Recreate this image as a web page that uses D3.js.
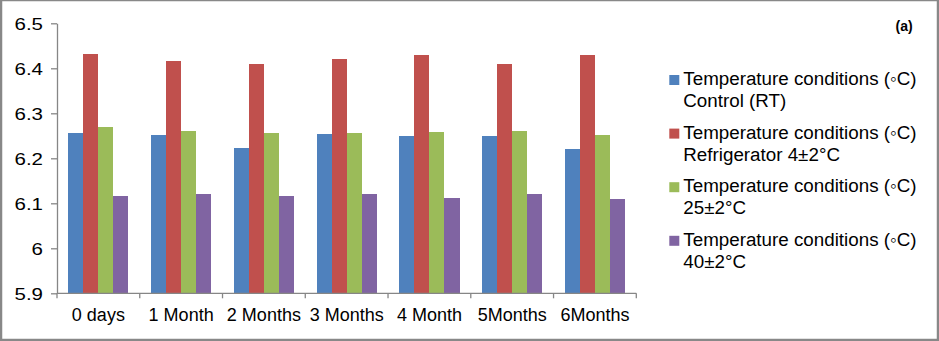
<!DOCTYPE html>
<html>
<head>
<meta charset="utf-8">
<script src="https://cdn.jsdelivr.net/npm/d3@7/dist/d3.min.js"></script>
<style>
  html, body { margin: 0; padding: 0; background: #fff; }
  svg { display: block; }
  text { font-family: "Liberation Sans", Arial, "DejaVu Sans", sans-serif; fill: #000; }
</style>
</head>
<body>
<svg id="chart" width="939" height="341"></svg>
<script>
// Storage periods along the x axis
const categories = ["0 days", "1 Month", "2 Months", "3 Months", "4 Month", "5Months", "6Months"];

// Series names (two legend lines each)
const seriesNames = [
  ["Temperature conditions (\u25E6C)", "Control (RT)"],
  ["Temperature conditions (\u25E6C)", "Refrigerator 4\u00B12\u00B0C"],
  ["Temperature conditions (\u25E6C)", "25\u00B12\u00B0C"],
  ["Temperature conditions (\u25E6C)", "40\u00B12\u00B0C"]
];
const seriesColors = ["#4F81BD", "#C0504D", "#9BBB59", "#8064A2"];

// pH values per series, one per storage period
const controlRT    = [6.256, 6.252, 6.223, 6.254, 6.250, 6.250, 6.221];
const refrigerator = [6.432, 6.416, 6.410, 6.421, 6.430, 6.410, 6.430];
const temp25       = [6.270, 6.261, 6.256, 6.256, 6.259, 6.261, 6.252];
const temp40       = [6.117, 6.121, 6.117, 6.121, 6.112, 6.121, 6.110];
const seriesValues = [controlRT, refrigerator, temp25, temp40];

// Y axis ticks
const yTicks = [5.9, 6.0, 6.1, 6.2, 6.3, 6.4, 6.5];
const yLabels = ["5.9", "6", "6.1", "6.2", "6.3", "6.4", "6.5"];
const panelLabel = "(a)";

const svg = d3.select("#chart");
const W = 939, H = 341;
const plot = { left: 57, right: 636.3, top: 23.3, bottom: 293.3 };
const axisColor = "#868686";

// Outer frame
svg.append("rect")
  .attr("x", 1).attr("y", 0).attr("width", W - 2).attr("height", H - 1)
  .attr("fill", "#fff").attr("stroke", "#888").attr("stroke-width", 2.5);

const x0 = d3.scaleBand().domain(categories).range([plot.left, plot.right]).paddingInner(0).paddingOuter(0);
const x1 = d3.scaleBand().domain(d3.range(seriesValues.length)).range([0, x0.bandwidth()])
  .paddingInner(0).paddingOuter(0.75);
const y = d3.scaleLinear().domain([yTicks[0], yTicks[yTicks.length - 1]]).range([plot.bottom, plot.top]);

// Bars
const groups = svg.append("g").selectAll("g").data(categories).join("g")
  .attr("transform", d => `translate(${x0(d)},0)`);
groups.selectAll("rect")
  .data((c, i) => seriesValues.map((vals, s) => ({ s, v: vals[i] })))
  .join("rect")
  .attr("x", d => x1(d.s))
  .attr("width", x1.bandwidth())
  .attr("y", d => y(d.v))
  .attr("height", d => y(yTicks[0]) - y(d.v))
  .attr("fill", d => seriesColors[d.s])
  .attr("shape-rendering", "crispEdges");

// Y axis
const yAxis = svg.append("g")
  .attr("transform", `translate(${plot.left},0)`)
  .call(d3.axisLeft(y).tickValues(yTicks).tickSize(6).tickSizeOuter(0)
    .tickFormat((d, i) => yLabels[i]));
yAxis.select(".domain").attr("stroke", axisColor).attr("stroke-width", 1.3);
yAxis.selectAll(".tick line").attr("stroke", axisColor).attr("stroke-width", 1.3);
yAxis.selectAll(".tick text")
  .attr("x", 0).attr("dy", null).attr("y", 5.7)
  .attr("text-anchor", "end")
  .attr("transform", "translate(-14,0) scale(1.28,1)")
  .style("font-size", "16px")
  .style("font-family", "\"Liberation Sans\", Arial, sans-serif");

// X axis with tick marks at band boundaries
const xAxis = svg.append("g").attr("transform", `translate(0,${plot.bottom})`);
xAxis.append("line")
  .attr("x1", plot.left).attr("x2", plot.right).attr("y1", 0).attr("y2", 0)
  .attr("stroke", axisColor).attr("stroke-width", 1.3);
const boundaries = categories.map(c => x0(c)).concat([plot.right]);
xAxis.selectAll("line.tick").data(boundaries).join("line")
  .attr("class", "tick")
  .attr("x1", d => d).attr("x2", d => d).attr("y1", 0).attr("y2", 5)
  .attr("stroke", axisColor).attr("stroke-width", 1.3);
xAxis.selectAll("text").data(categories).join("text")
  .attr("x", d => x0(d) + x0.bandwidth() / 2)
  .attr("y", 27.7)
  .attr("text-anchor", "middle")
  .style("font-size", "18px")
  .text(d => d);

// Legend
const legend = svg.append("g").attr("transform", "translate(669.3,75)");
const entry = legend.selectAll("g").data(seriesNames).join("g")
  .attr("transform", (d, i) => `translate(0,${i * 53.6})`);
entry.append("rect")
  .attr("width", 10).attr("height", 10)
  .attr("fill", (d, i) => seriesColors[i]);
entry.append("text")
  .attr("x", 14).attr("y", 10)
  .style("font-size", "18.8px")
  .selectAll("tspan").data(d => d).join("tspan")
  .attr("x", 14)
  .attr("dy", (d, i) => i === 0 ? 0 : 22.3)
  .text(d => d);

// Panel label
svg.append("text")
  .attr("x", 912.7).attr("y", 31)
  .attr("text-anchor", "end")
  .style("font-size", "14px")
  .style("font-weight", "bold")
  .text(panelLabel);
</script>
</body>
</html>
